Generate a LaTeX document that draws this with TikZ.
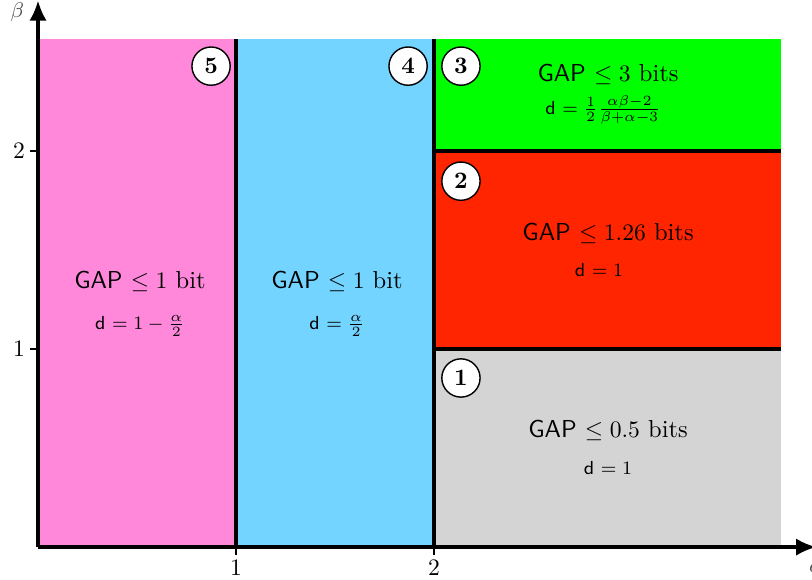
\documentclass[tikz,border=0pt]{standalone}
\usepackage{amsmath,amssymb}
\usepackage{tikz}
\usetikzlibrary{arrows.meta,positioning}

\begin{document}
\begin{tikzpicture}[
    x={(2.95cm,0cm)}, y={(0cm,2.95cm)},
    every node/.style={font=\normalsize},
    regionnum/.style={circle, draw, fill=white, line width=0.6pt, inner sep=0pt, minimum size=0.57cm, font=\bfseries},
    gaplabel/.style={font=\fontsize{10.4}{12}\selectfont},
    dlabel/.style={font=\footnotesize},
    divider/.style={line width=1.35pt},
    axisline/.style={line width=1.35pt, -{Latex[length=3mm, width=2.6mm]}},
  ]
    \pgfmathsetmacro{\Amax}{3.75}
    \pgfmathsetmacro{\Bmax}{2.565}
    \definecolor{regionA}{HTML}{D4D4D4}
    \definecolor{regionB}{HTML}{FF2500}
    \definecolor{regionC}{HTML}{00FF00}
    \definecolor{regionD}{HTML}{73D4FF}
    \definecolor{regionE}{HTML}{FF88DA}

    \useasboundingbox (-0.192,-0.1616) rectangle (3.909,2.763);

    % -------- coloured regions --------
    \foreach \xa/\ya/\xb/\yb/\col in {0/0/1/\Bmax/regionE, 1/0/2/\Bmax/regionD,
        2/0/\Amax/1/regionA, 2/1/\Amax/2/regionB, 2/2/\Amax/\Bmax/regionC} {
      \fill[\col] (\xa,\ya) rectangle (\xb,\yb);
    }

    % -------- borders between regions --------
    \draw[divider] (1,0) -- (1,\Bmax);
    \draw[divider] (2,0) -- (2,\Bmax);
    \draw[divider] (2,1) -- (\Amax,1);
    \draw[divider] (2,2) -- (\Amax,2);

    % -------- axes --------
    \coordinate (origin) at (0,0);
    \coordinate (aend) at (3.93,0);
    \coordinate (bend) at (0,2.76);
    \draw[axisline] (origin) -- (aend);
    \draw[axisline] (origin) -- (bend);
    \node[font=\small, text=black!70] (alabel) at (3.93,-0.105) {$\alpha$};
    \node[font=\small, text=black!70] (blabel) at (-0.105,2.70) {$\beta$};
    \foreach \t in {1,2} {
      \draw[line width=0.5pt] (\t,0) -- (\t,-0.04);
      \draw[line width=0.5pt] (0,\t) -- (-0.04,\t);
      \node[anchor=north, inner sep=2pt] (atick\t) at (\t,-0.04) {$\t$};
      \node[anchor=east, inner sep=2pt] (btick\t) at (-0.04,\t) {$\t$};
    }

    % -------- region numbers --------
    \foreach \n/\px/\py in {1/2.136/0.854, 2/2.136/1.848, 3/2.136/2.429, 4/1.869/2.429, 5/0.874/2.429} {
      \node[regionnum] (num\n) at (\px,\py) {\n};
    }

    % -------- gap bounds and d values --------
    \node[gaplabel] (gapE) at (0.515,1.343) {\textsf{GAP} $\leq 1$ bit};
    \node[dlabel] (dE) at (0.515,1.116) {\textsf{d} $= 1 - \frac{\alpha}{2}$};
    \node[gaplabel] (gapD) at (1.51,1.343) {\textsf{GAP} $\leq 1$ bit};
    \node[dlabel] (dD) at (1.51,1.116) {\textsf{d} $= \frac{\alpha}{2}$};
    \node[gaplabel] (gapC) at (2.879,2.389) {\textsf{GAP} $\leq 3$ bits};
    \node[dlabel] (dC) at (2.854,2.207) {\textsf{d} $= \frac{1}{2}\frac{\alpha\beta-2}{\beta+\alpha-3}$};
    \node[gaplabel] (gapB) at (2.879,1.586) {\textsf{GAP} $\leq 1.26$ bits};
    \node[dlabel] (dB) at (2.833,1.399) {\textsf{d} $= 1$};
    \node[gaplabel] (gapA) at (2.879,0.591) {\textsf{GAP} $\leq 0.5$ bits};
    \node[dlabel] (dA) at (2.879,0.399) {\textsf{d} $= 1$};
  \end{tikzpicture}
\end{document}
